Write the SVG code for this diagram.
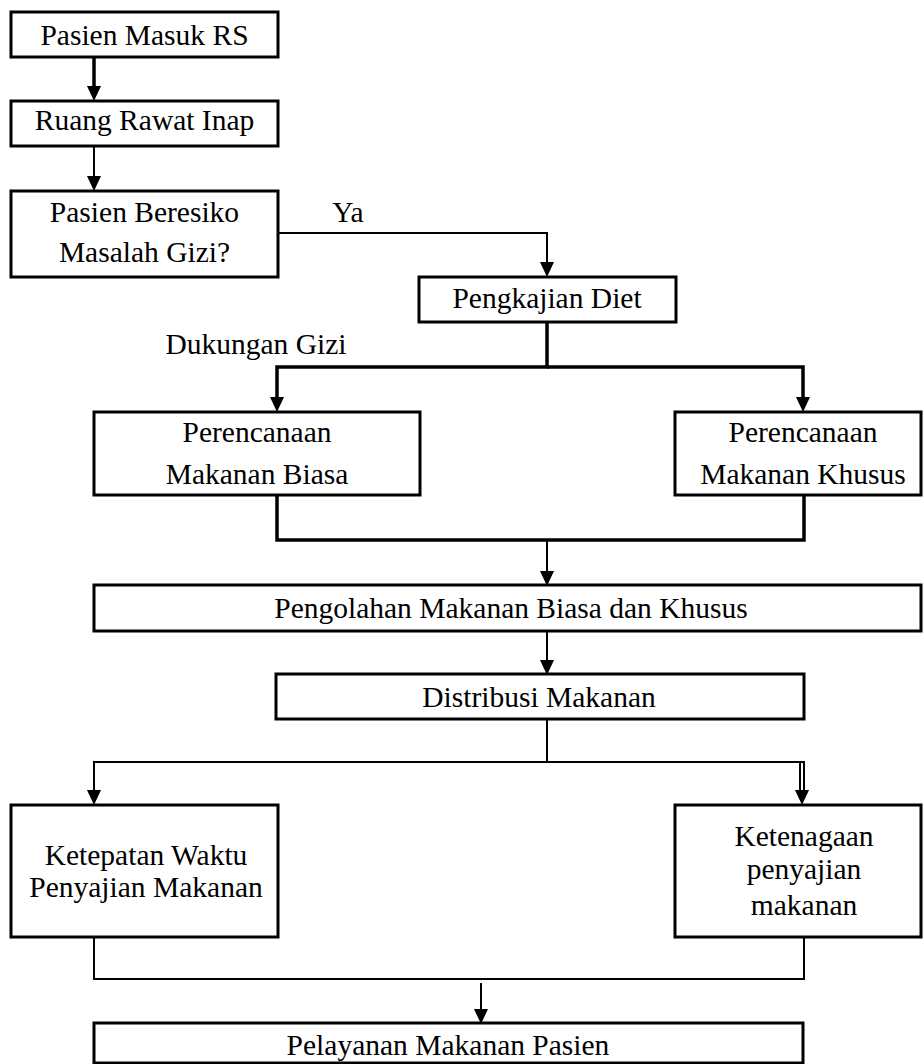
<svg xmlns="http://www.w3.org/2000/svg" width="923" height="1064" viewBox="0 0 923 1064" font-family="'Liberation Serif', 'DejaVu Serif', serif">
<style>
.box{fill:#fff;stroke:#000;stroke-width:3}
text{font-family:'Liberation Serif','DejaVu Serif',serif;font-size:29.5px;fill:#000;text-anchor:middle}
.c2{fill:none;stroke:#000;stroke-width:2}
.c3{fill:none;stroke:#000;stroke-width:3.5}
.ah{fill:#000}
</style>
<rect width="923" height="1064" fill="#fff"/>
<g id="connectors">
  <path class="c3" d="M94,57 V88"/>
  <polygon class="ah" points="87,86 101,86 94,101"/>
  <path class="c2" d="M94,146 V178"/>
  <polygon class="ah" points="87,176 101,176 94,191"/>
  <path class="c2" d="M278,233 H547 V265"/>
  <polygon class="ah" points="540,262 554,262 547,277"/>
  <path class="c3" d="M547,323 V367 H277 V400"/>
  <polygon class="ah" points="270,397 284,397 277,412"/>
  <path class="c3" d="M547,367 H803 V400"/>
  <polygon class="ah" points="796,397 810,397 803,412"/>
  <path class="c3" d="M277,495 V540 H804 V495"/>
  <path class="c2" d="M547,540 V573"/>
  <polygon class="ah" points="540,571 554,571 547,586"/>
  <path class="c2" d="M547,631 V662"/>
  <polygon class="ah" points="540,660 554,660 547,675"/>
  <path class="c2" d="M547,719 V762 H94 V792"/>
  <polygon class="ah" points="87,790 101,790 94,805"/>
  <path class="c2" d="M547,762 H804 V792"/>
  <path class="c2" d="M800,762 V792"/>
  <polygon class="ah" points="795,790 809,790 802,805"/>
  <path class="c2" d="M94,938 V979 H804 V937"/>
  <path class="c2" d="M481,983 V1011"/>
  <polygon class="ah" points="474,1009 488,1009 481,1024"/>
</g>
<g id="n1"><rect class="box" x="11" y="12" width="267" height="45"/><text x="144.5" y="45">Pasien Masuk RS</text></g>
<g id="n2"><rect class="box" x="11" y="101" width="267" height="45"/><text x="144.5" y="130">Ruang Rawat Inap</text></g>
<g id="n3"><rect class="box" x="11" y="191" width="267" height="86"/><text x="144.5" y="222">Pasien Beresiko</text><text x="144.5" y="262">Masalah Gizi?</text></g>
<g id="lbl-ya"><text x="348" y="222">Ya</text></g>
<g id="n4"><rect class="box" x="419" y="277" width="257" height="45"/><text x="547" y="308">Pengkajian Diet</text></g>
<g id="lbl-dukungan"><text x="256" y="354">Dukungan Gizi</text></g>
<g id="n5"><rect class="box" x="94" y="412" width="326" height="83"/><text x="257" y="442">Perencanaan</text><text x="257" y="484">Makanan Biasa</text></g>
<g id="n6"><rect class="box" x="675" y="412" width="246" height="83"/><text x="803" y="442">Perencanaan</text><text x="803" y="484">Makanan Khusus</text></g>
<g id="n7"><rect class="box" x="94" y="585" width="827" height="46"/><text x="511" y="618">Pengolahan Makanan Biasa dan Khusus</text></g>
<g id="n8"><rect class="box" x="276" y="674" width="528" height="45"/><text x="539" y="707">Distribusi Makanan</text></g>
<g id="n9"><rect class="box" x="11" y="805" width="267" height="132"/><text x="146" y="865">Ketepatan Waktu</text><text x="146" y="897">Penyajian Makanan</text></g>
<g id="n10"><rect class="box" x="675" y="805" width="246" height="132"/><text x="804" y="846">Ketenagaan</text><text x="804" y="879">penyajian</text><text x="804" y="915">makanan</text></g>
<g id="n11"><rect class="box" x="94" y="1023" width="709" height="40"/><text x="448" y="1055">Pelayanan Makanan Pasien</text></g>
</svg>
